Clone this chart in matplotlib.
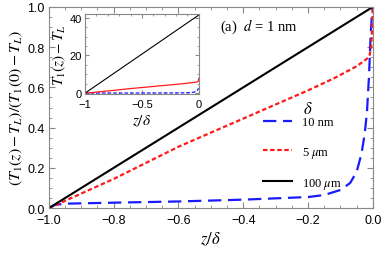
import matplotlib
matplotlib.use("Agg")
import matplotlib.pyplot as plt
from matplotlib.ticker import MultipleLocator
import numpy as np

plt.rcParams['mathtext.fontset'] = 'stix'
plt.rcParams['font.family'] = 'Liberation Sans'

# normalized profiles (T1(z)-TL)/(T1(0)-TL)
z_blue = [-1.0, -0.99, -0.98, -0.95, -0.8, -0.6, -0.4, -0.2, -0.15, -0.1, -0.07,
          -0.05, -0.035, -0.025, -0.018, -0.012, -0.007, -0.003, 0.0]
v_blue = [0.0, 0.01, 0.016, 0.022, 0.027, 0.033, 0.042, 0.055, 0.065, 0.09, 0.125,
          0.18, 0.27, 0.37, 0.48, 0.65, 0.85, 0.96, 1.0]

z_red = [-1.0, -0.8, -0.6, -0.4, -0.3, -0.2, -0.12, -0.05, -0.02, -0.01,
         -0.005, -0.002, 0.0]
v_red = [0.0, 0.145, 0.305, 0.445, 0.515, 0.585, 0.645, 0.705, 0.74, 0.76,
         0.80, 0.90, 1.0]

z_black = [-1.0, 0.0]
v_black = [0.0, 1.0]

# T1(0)-TL for the inset (10 nm, 5 um, 100 um)
t0_blue, t0_red, t0_black = 2.5, 8.0, 41.5

fig = plt.figure(figsize=(3.82, 2.55), dpi=100)
ax = fig.add_axes([0.128, 0.180, 0.848, 0.789])

ax.plot(z_blue, v_blue, color='#1a1aff', lw=1.6, dashes=(6, 3), label='10 nm')
ax.plot(z_red, v_red, color='#ff1a1a', lw=1.6, dashes=(2, 1.2), label=r'5 $\mu$m')
ax.plot(z_black, v_black, color='black', lw=1.5, label=r'100 $\mu$m')

ax.set_xlim(-1, 0)
ax.set_ylim(0, 1)
ax.xaxis.set_minor_locator(MultipleLocator(0.05))
ax.yaxis.set_minor_locator(MultipleLocator(0.05))
ax.set_xticks([-1.0, -0.8, -0.6, -0.4, -0.2, 0.0])
ax.set_xticklabels(['\u22121.0', '\u22120.8', '\u22120.6', '\u22120.4', '\u22120.2', '0.0'])
ax.set_yticks([0.0, 0.2, 0.4, 0.6, 0.8, 1.0])
ax.set_yticklabels(['0.0', '0.2', '0.4', '0.6', '0.8', '1.0'])
ax.tick_params(which='both', direction='in', top=True, right=True, color='#888888',
               labelsize=9)
ax.tick_params(axis='x', pad=4)
ax.tick_params(axis='y', pad=3)
ax.tick_params(which='major', length=4)
ax.tick_params(which='minor', length=2)
for s in ax.spines.values():
    s.set_color('#888888')

ax.set_xlabel(r'$z/\delta$', fontsize=12, labelpad=3)
ax.set_ylabel(r'$(T_1(z)-T_L)/(T_1(0)-T_L)$', fontsize=11.5, labelpad=2)

ax.text(0.527, 0.905, r'(a)  $d$ = 1 nm', transform=ax.transAxes, fontsize=10.5,
        family='Liberation Serif', va='center')

# legend title drawn as its own text
ax.text(0.80, 0.50, r'$\delta$', transform=ax.transAxes, fontsize=12,
        ha='center', va='center')
leg = ax.legend(loc='lower right', bbox_to_anchor=(0.94, 0.03), frameon=False,
                handlelength=2.3, handletextpad=0.8, labelspacing=1.3,
                prop={'family': 'Liberation Serif', 'size': 9})

# inset
ins = fig.add_axes([0.2225, 0.627, 0.298, 0.314])
ins.plot(z_blue, [v * t0_blue for v in v_blue], color='#1a1aff', lw=0.9, dashes=(3, 1.5))
ins.plot(z_red, [v * t0_red for v in v_red], color='#ff1a1a', lw=0.9)
ins.plot(z_black, [v * t0_black for v in v_black], color='black', lw=0.8)
ins.set_xlim(-1, 0)
ins.set_ylim(-0.5, 42)
ins.set_xticks([-1, -0.5, 0])
ins.set_xticklabels(['\u22121', '\u22120.5', '0'])
ins.set_yticks([0, 20, 40])
ins.xaxis.set_minor_locator(MultipleLocator(0.1))
ins.yaxis.set_minor_locator(MultipleLocator(5))
ins.tick_params(which='both', direction='in', top=True, right=True, color='#888888',
                labelsize=8)
ins.tick_params(axis='x', pad=3.5)
ins.tick_params(axis='y', pad=2.5)
ins.tick_params(which='major', length=3)
ins.tick_params(which='minor', length=1.5)
for s in ins.spines.values():
    s.set_color('#888888')
ins.set_xlabel(r'$z/\delta$', fontsize=11, labelpad=3)
ins.set_ylabel(r'$T_1(z)-T_L$', fontsize=11, labelpad=1)

fig.savefig('out.png', dpi=100)
